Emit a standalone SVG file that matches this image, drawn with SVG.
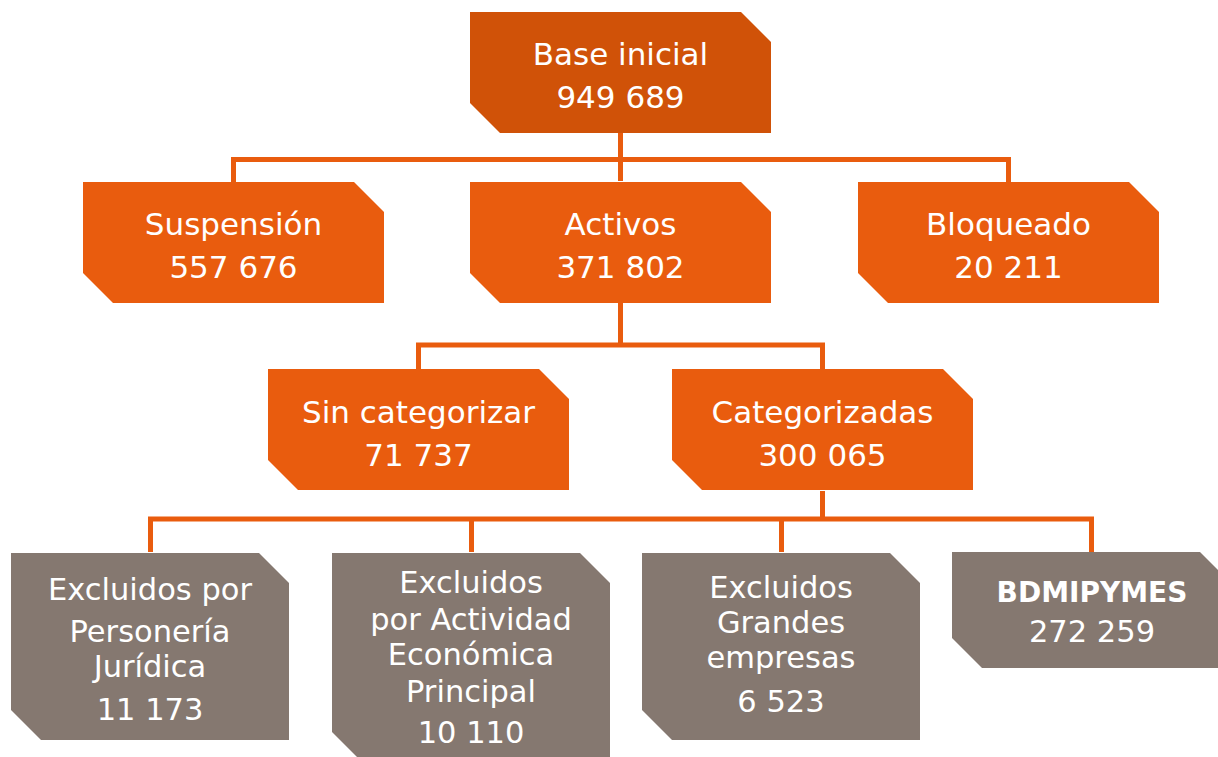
<svg xmlns="http://www.w3.org/2000/svg" width="1218" height="757" viewBox="0 0 1218 757">
<style>
.top{fill:#D05208}
.org{fill:#E95C0E}
.gry{fill:#857870}
.conn{fill:none;stroke:#E95C0E;stroke-width:5;stroke-linejoin:miter}
text{font-family:"DejaVu Sans","Liberation Sans",sans-serif;fill:#FFFFFF;text-anchor:middle;font-size:31px}
.sm{font-size:30.5px}
.b{font-weight:bold;font-size:28px}
</style>
<defs>
<path id="boxA" d="M0,0 H271 L301,30 V121 H30 L0,91 Z"/>
</defs>
<rect width="1218" height="757" fill="#FFFFFF"/>
<g id="connectors" class="conn">
<path d="M620.5,133 V181"/>
<path d="M233.5,182 V159.5 H1008.5 V182"/>
<path d="M620.5,303 V345"/>
<path d="M418.5,369 V345 H822.5 V369"/>
<path d="M822.5,491 V519"/>
<path d="M150.5,552 V519 H1091.5 V552"/>
<path d="M471.5,519 V552"/>
<path d="M781.5,519 V552"/>
</g>
<g id="base-inicial">
<use href="#boxA" x="470" y="12" class="top"/>
<text x="620.5" y="65">Base inicial</text>
<text x="620.5" y="108">949 689</text>
</g>
<g id="suspension">
<use href="#boxA" x="83" y="182" class="org"/>
<text x="233.5" y="235">Suspensión</text>
<text x="233.5" y="278">557 676</text>
</g>
<g id="activos">
<use href="#boxA" x="470" y="182" class="org"/>
<text x="620.5" y="235">Activos</text>
<text x="620.5" y="278">371 802</text>
</g>
<g id="bloqueado">
<use href="#boxA" x="858" y="182" class="org"/>
<text x="1008.5" y="235">Bloqueado</text>
<text x="1008.5" y="278">20 211</text>
</g>
<g id="sin-categorizar">
<use href="#boxA" x="268" y="369" class="org"/>
<text x="418.5" y="423">Sin categorizar</text>
<text x="418.5" y="466">71 737</text>
</g>
<g id="categorizadas">
<use href="#boxA" x="672" y="369" class="org"/>
<text x="822.5" y="423">Categorizadas</text>
<text x="822.5" y="466">300 065</text>
</g>
<g id="excluidos-personeria">
<path class="gry" d="M11,553 H259 L289,583 V740 H41 L11,710 Z"/>
<text class="sm" x="150" y="600">Excluidos por</text>
<text class="sm" x="150" y="642">Personería</text>
<text class="sm" x="150" y="677">Jurídica</text>
<text class="sm" x="150" y="720">11 173</text>
</g>
<g id="excluidos-actividad">
<path class="gry" d="M332,553 H580 L610,583 V762 H362 L332,732 Z"/>
<text class="sm" x="471" y="593">Excluidos</text>
<text class="sm" x="471" y="630">por Actividad</text>
<text class="sm" x="471" y="665">Económica</text>
<text class="sm" x="471" y="702">Principal</text>
<text class="sm" x="471" y="743">10 110</text>
</g>
<g id="excluidos-grandes">
<path class="gry" d="M642,553 H890 L920,583 V740 H672 L642,710 Z"/>
<text class="sm" x="781" y="598">Excluidos</text>
<text class="sm" x="781" y="633">Grandes</text>
<text class="sm" x="781" y="668">empresas</text>
<text class="sm" x="781" y="712">6 523</text>
</g>
<g id="bdmipymes">
<path class="gry" d="M952,552 H1200 L1230,582 V668 H982 L952,638 Z"/>
<text class="b" x="1092" y="602">BDMIPYMES</text>
<text class="sm" x="1092" y="642">272 259</text>
</g>
</svg>
